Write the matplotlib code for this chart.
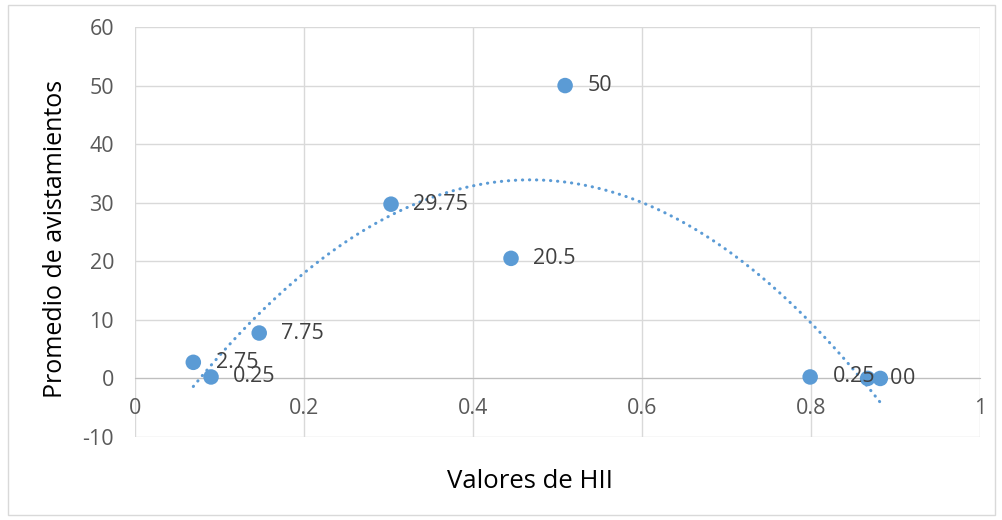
import numpy as np
import matplotlib
matplotlib.use("Agg")
import matplotlib.pyplot as plt
from matplotlib.patches import Rectangle

plt.rcParams['font.family'] = ['Open Sans', 'DejaVu Sans']
plt.rcParams['axes.unicode_minus'] = False

hii = [0.069, 0.090, 0.147, 0.303, 0.445, 0.509, 0.799, 0.867, 0.882]
avist = [2.75, 0.25, 7.75, 29.75, 20.5, 50, 0.25, 0, 0]
labels = ["2.75", "0.25", "7.75", "29.75", "20.5", "50", "0.25", "0", "0"]
xticks = [0, 0.2, 0.4, 0.6, 0.8, 1]
xticklabels = ["0", "0.2", "0.4", "0.6", "0.8", "1"]
yticks = [-10, 0, 10, 20, 30, 40, 50, 60]

W, H = 1002, 520
fig = plt.figure(figsize=(W / 100, H / 100), dpi=100)
fig.patches.append(Rectangle((8 / W, 5 / H), 987 / W, 510 / H, transform=fig.transFigure,
                             fill=False, edgecolor='#d9d9d9', linewidth=1))
ax = fig.add_axes([135 / W, (H - 437) / H, 845 / W, 410 / H])

blue = '#5B9BD5'
txt = '#595959'

ax.set_xlim(0, 1)
ax.set_ylim(-10, 60)
ax.set_xticks(xticks)
ax.set_xticklabels(xticklabels)
ax.set_yticks(yticks)
ax.grid(True, color='#d9d9d9', linewidth=1)
ax.set_axisbelow(True)
for s in ['top', 'right', 'left']:
    ax.spines[s].set_visible(False)
ax.spines['bottom'].set_position(('data', 0))
ax.spines['bottom'].set_color('#bfbfbf')
ax.tick_params(length=0, labelsize=15.5, labelcolor=txt)
ax.tick_params(axis='x', pad=14)
ax.tick_params(axis='y', pad=15)

# trendline: 2nd order polynomial
coef = np.polyfit(hii, avist, 2)
xs = np.linspace(min(hii), max(hii), 300)
ax.plot(xs, np.polyval(coef, xs), linestyle=(0, (0.1, 2.2)), dash_capstyle='round',
        color=blue, linewidth=2.2, zorder=2)

ax.scatter(hii, avist, s=125, color=blue, zorder=3, edgecolors='none')
for x, y, l in zip(hii, avist, labels):
    ax.annotate(l, (x, y), xytext=(16, 0), textcoords='offset points', va='center', ha='left',
                fontsize=15.5, color='#404040', zorder=4)

fig.text(530 / W, 1 - 481 / H, 'Valores de HII', ha='center', va='center', fontsize=18.5, color='#000000')
fig.text(56 / W, 1 - 239 / H, 'Promedio de avistamientos', ha='center', va='center', rotation=90,
         fontsize=18, color='#000000')

fig.savefig('out.png', dpi=100)
